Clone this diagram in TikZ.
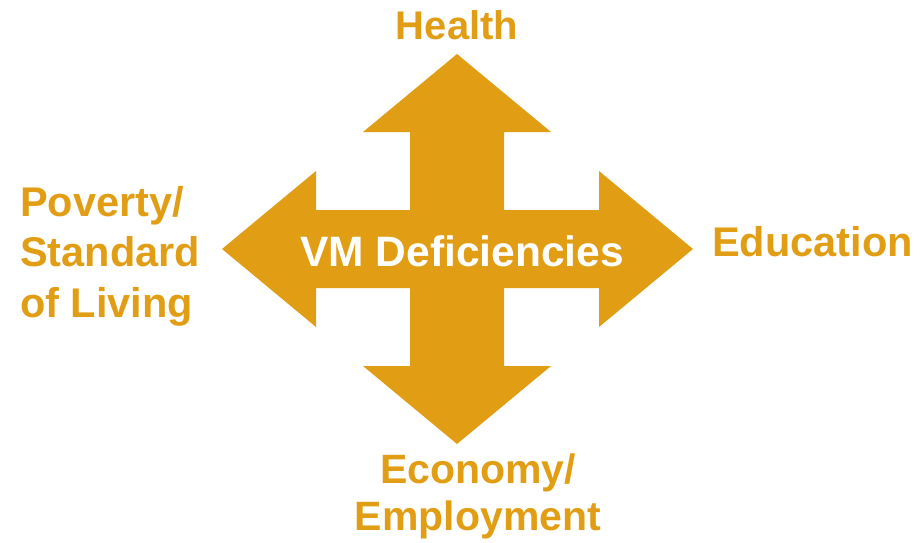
\documentclass[tikz,border=0pt]{standalone}
\usepackage{fontspec}
\setmainfont{Liberation Sans}
\usepackage{xcolor}
\definecolor{vmgold}{RGB}{225,158,20}

\begin{document}
\begin{tikzpicture}[x=1pt, y=-1pt,
	outlabel/.style={text=vmgold, font=\bfseries\fontsize{41.5}{50}\selectfont, inner sep=0pt, anchor=base},
	centrelabel/.style={text=white, font=\bfseries\fontsize{42.5}{50}\selectfont, inner sep=0pt, anchor=base}]
	\useasboundingbox (0,0) rectangle (921,543);
	% four-way arrow
	\fill[vmgold] (457,54) -- (551,132) -- (504,132) -- (504,210) -- (599,210) -- (599,171)
		-- (693,249) -- (599,327) -- (599,288) -- (504,288) -- (504,366) -- (551,366)
		-- (457,444) -- (363,366) -- (410,366) -- (410,288) -- (316,288) -- (316,327)
		-- (222,249) -- (316,171) -- (316,210) -- (410,210) -- (410,132) -- (363,132) -- cycle;
	\node[centrelabel] (deficiency) at (462,266) {VM Deficiencies};
	\node[outlabel, font=\bfseries\fontsize{40}{50}\selectfont] (health) at (457,40) {Health};
	\node[outlabel, anchor=base west] (education) at (712,256) {Education};
	\node[outlabel, anchor=base west, align=left, font=\bfseries\fontsize{41.5}{50.5}\selectfont] (poverty) at (20,317) {Poverty/\\Standard\\of Living};
	\node[outlabel, align=center, font=\bfseries\fontsize{41}{47}\selectfont] (economy) at (478,530) {Economy/\\Employment};
\end{tikzpicture}
\end{document}
